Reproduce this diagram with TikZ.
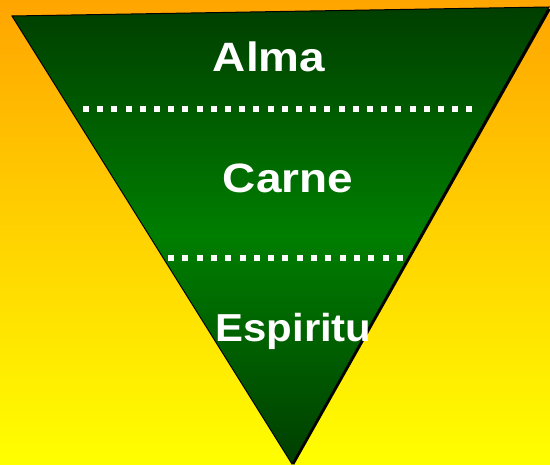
\documentclass[tikz,border=0pt]{standalone}
\usepackage{fontspec}
\setmainfont{Liberation Sans}
\definecolor{bgtop}{RGB}{255,165,0}
\definecolor{bgbot}{RGB}{255,255,0}
\definecolor{gdark}{RGB}{0,62,0}
\definecolor{gmid}{RGB}{0,126,0}
\tikzset{
  label text/.style={text=white, font=\fontsize{41}{48}\selectfont\bfseries, xscale=1.12, inner sep=0pt, anchor=base},
  dotsq/.style={fill=white, draw=none}
}
\begin{document}
\begin{tikzpicture}[x=1pt,y=-1pt]
\useasboundingbox (0,0) rectangle (550,465);
\shade[top color=bgtop, bottom color=bgbot] (0,0) rectangle (550,465);
% shadow
\fill[black] (14,17.5) -- (551,9) -- (294,465) -- cycle;
% triangle
\shade[top color=gdark, bottom color=gdark, middle color=gmid, draw=black, line width=1pt]
  (12,16) -- (549,7) -- (292,464) -- cycle;
% dotted separators
\foreach \i in {0,...,27} { \fill[dotsq] ({83+\i*14.2},106) rectangle +(6,6); }
\foreach \i in {0,...,16} { \fill[dotsq] ({168+\i*14.3},255) rectangle +(6,6); }
% labels
\node[label text] (alma) at (269,72) {Alma};
\node[label text] (carne) at (288,193) {Carne};
\node[label text, font=\fontsize{39}{46}\selectfont\bfseries, xscale=0.96] (esp) at (293.5,342) {Espiritu};
\end{tikzpicture}
\end{document}
